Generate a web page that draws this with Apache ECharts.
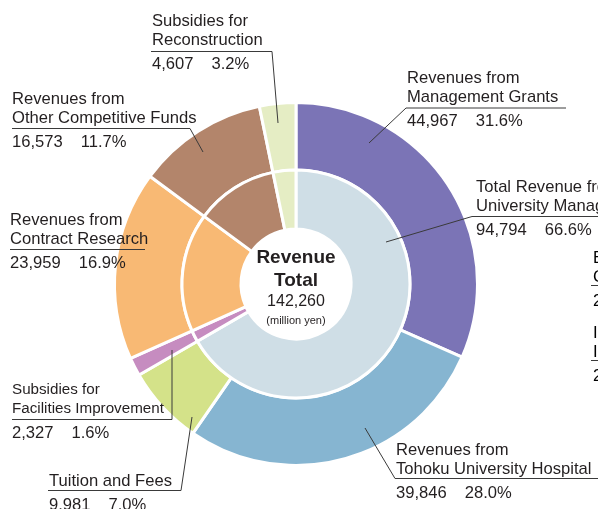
<!DOCTYPE html>
<html>
  <head>
    <meta charset="utf-8" />
    <title>Revenue Total</title>
    <script src="https://cdn.jsdelivr.net/npm/echarts/dist/echarts.min.js"></script>
    <style>
      body { margin: 0; background: #fff; }
    </style>
  </head>
  <body>
    <div id="main" style="width: 598px; height: 509px;"></div>
    <script type="text/javascript">
      // outer ring: revenue by source (million yen)
      var outerNames = [
        'Revenues from\nManagement Grants',
        'Revenues from\nTohoku University Hospital',
        'Tuition and Fees',
        'Subsidies for\nFacilities Improvement',
        'Revenues from\nContract Research',
        'Revenues from\nOther Competitive Funds',
        'Subsidies for\nReconstruction'
      ];
      var outerValues = [44967, 39846, 9981, 2327, 23959, 16573, 4607];
      var outerValueText = ['44,967', '39,846', '9.981', '2,327', '23,959', '16,573', '4,607'];
      var outerPercent = ['31.6%', '28.0%', '7.0%', '1.6%', '16.9%', '11.7%', '3.2%'];
      var outerColors = ['#7b74b6', '#86b5d1', '#d4e289', '#c68cc0', '#f8b974', '#b3856b', '#e5edc4'];

      // inner ring: university management total + the other sources
      var innerNames = [
        'Total Revenue from\nUniversity Management',
        'Subsidies for\nFacilities Improvement',
        'Revenues from\nContract Research',
        'Revenues from\nOther Competitive Funds',
        'Subsidies for\nReconstruction'
      ];
      var innerValues = [94794, 2327, 23959, 16573, 4607];
      var innerValueText = ['94,794', '2,327', '23,959', '16,573', '4,607'];
      var innerPercent = ['66.6%', '1.6%', '16.9%', '11.7%', '3.2%'];
      var innerColors = ['#cfdee6', '#c68cc0', '#f8b974', '#b3856b', '#e5edc4'];

      var totalValue = '142,260';

      var textColor = '#231f20';
      var font = "'Liberation Sans', Arial, sans-serif";

      // label placement: left x, first line centre y, leader line points
      var outerLabelPos = [
        { x: 407, line1: 77, pts: [[369, 143], [406, 108], [566, 108]] },
        { x: 396, line1: 449, pts: [[365, 428], [395, 478.5], [620, 478.5]] },
        { x: 49, line1: 480, pts: [[192, 417], [181, 490.5], [48, 490.5]] },
        { x: 12, line1: 389, pts: [[172, 350], [172, 419.5], [12, 419.5]], narrow: true },
        { x: 10, line1: 219, pts: [[145, 249.5], [145, 249.5], [10, 249.5]] },
        { x: 12, line1: 98, pts: [[203, 152], [190, 128.5], [12, 128.5]] },
        { x: 152, line1: 20, pts: [[278, 123], [272, 51.5], [151, 51.5]] }
      ];
      var innerLabelPos = [
        { x: 476, line1: 186, pts: [[386, 242], [472, 216.5], [620, 216.5]] }
      ];

      var pieCenter = [296, 284];
      var outerRadius = [114, 181.5];
      var innerRadius = [55, 114];

      function labelText(name, valueText, pct, narrow) {
        var tag = narrow ? 'c' : 'n';
        var lines = name.split('\n').map(function (s) { return '{' + tag + '|' + s + '}'; });
        return lines.join('\n') + '\n{v|' + valueText + '}{g|}{v|' + pct + '}';
      }

      var labelRich = {
        n: { fontSize: 16.6, lineHeight: 19, color: textColor, fontFamily: font },
        c: { fontSize: 15.2, lineHeight: 19, color: textColor, fontFamily: font },
        v: { fontSize: 16.6, lineHeight: 29, color: textColor, fontFamily: font },
        g: { width: 18, lineHeight: 29 }
      };

      function makeLayout(posList) {
        return function (p) {
          var L = posList[p.dataIndex];
          if (!L) return {};
          return {
            x: L.x,
            y: L.line1 - 8.5,
            align: 'left',
            verticalAlign: 'top',
            labelLinePoints: L.pts
          };
        };
      }

      // visible rings
      function sliceData(values, names, colors) {
        return values.map(function (v, i) {
          return { name: names[i], value: v, itemStyle: { color: colors[i] } };
        });
      }

      // transparent copies on top carry the labels so leader lines sit above the slices
      function labelData(values, names, valueText, pct, posList) {
        return values.map(function (v, i) {
          var L = posList[i];
          return {
            name: names[i],
            value: v,
            label: { show: !!L, formatter: L ? labelText(names[i], valueText[i], pct[i], L.narrow) : '' },
            labelLine: { show: !!L }
          };
        });
      }

      var ringBase = {
        type: 'pie',
        center: pieCenter,
        startAngle: 90,
        avoidLabelOverlap: false,
        emphasis: { disabled: true },
        label: { show: false },
        labelLine: { show: false },
        itemStyle: { borderColor: '#fff', borderWidth: 3 }
      };

      var labelBase = {
        type: 'pie',
        center: pieCenter,
        startAngle: 90,
        z: 5,
        silent: true,
        avoidLabelOverlap: false,
        minShowLabelAngle: 0,
        emphasis: { disabled: true },
        itemStyle: { color: 'rgba(0,0,0,0)', borderWidth: 0 },
        label: {
          show: true,
          position: 'outside',
          width: 300,
          overflow: 'none',
          rich: labelRich
        },
        labelLine: {
          show: true,
          lineStyle: { color: '#3a3a3a', width: 1 }
        }
      };

      // partial labels cut by the right edge of the picture
      var sideLabels = [
        { text: '{n|Endowment}\n{n|Contributions}\n{v|2,000}', x: 593, line1: 257 },
        { text: '{n|Interest}\n{n|Income}\n{v|2,000}', x: 593, line1: 332 }
      ];

      var myChart = echarts.init(document.getElementById('main'));

      var option = {
        animation: false,
        backgroundColor: '#fff',
        series: [
          Object.assign({}, ringBase, {
            radius: outerRadius,
            data: sliceData(outerValues, outerNames, outerColors)
          }),
          Object.assign({}, ringBase, {
            radius: innerRadius,
            data: sliceData(innerValues, innerNames, innerColors)
          }),
          Object.assign({}, labelBase, {
            radius: outerRadius,
            labelLayout: makeLayout(outerLabelPos),
            data: labelData(outerValues, outerNames, outerValueText, outerPercent, outerLabelPos)
          }),
          Object.assign({}, labelBase, {
            radius: innerRadius,
            labelLayout: makeLayout(innerLabelPos),
            data: labelData(innerValues, innerNames, innerValueText, innerPercent, innerLabelPos)
          })
        ],
        graphic: [
          {
            type: 'text',
            style: {
              x: 296, y: 258, text: 'Revenue', align: 'center', verticalAlign: 'middle',
              font: 'bold 19px ' + font, fill: textColor
            }
          },
          {
            type: 'text',
            style: {
              x: 296, y: 281, text: 'Total', align: 'center', verticalAlign: 'middle',
              font: 'bold 19px ' + font, fill: textColor
            }
          },
          {
            type: 'text',
            style: {
              x: 296, y: 302, text: totalValue, align: 'center', verticalAlign: 'middle',
              font: '16px ' + font, fill: textColor
            }
          },
          {
            type: 'text',
            style: {
              x: 296, y: 321, text: '(million yen)', align: 'center', verticalAlign: 'middle',
              font: '11px ' + font, fill: textColor
            }
          }
        ].concat(sideLabels.map(function (s) {
          return {
            type: 'text',
            style: {
              x: s.x, y: s.line1 - 8.5, text: s.text, align: 'left', verticalAlign: 'top',
              rich: labelRich
            }
          };
        })).concat(sideLabels.map(function (s) {
          return {
            type: 'line',
            shape: { x1: s.x - 2, y1: s.line1 + 28.5, x2: 620, y2: s.line1 + 28.5 },
            style: { stroke: '#3a3a3a', lineWidth: 1 }
          };
        }))
      };

      myChart.setOption(option);
    </script>
  </body>
</html>
